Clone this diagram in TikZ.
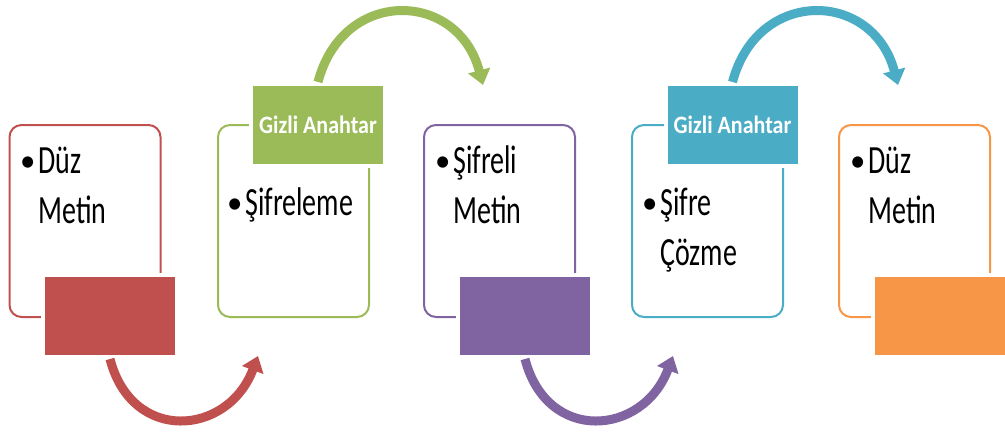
\documentclass[tikz,border=0pt]{standalone}
\usepackage{fontspec}
\setmainfont{Carlito}
\usepackage{tikz}
\usetikzlibrary{shapes,arrows,arrows.meta}
\definecolor{kirmizi}{HTML}{C0504D}
\definecolor{yesil}{HTML}{9BBB59}
\definecolor{mor}{HTML}{8064A2}
\definecolor{mavi}{HTML}{4BACC6}
\definecolor{turuncu}{HTML}{F79646}
\tikzstyle{kutu} = [draw,line width=2pt,rounded corners=12pt,minimum width=151pt,minimum height=192pt,inner sep=0pt]
\tikzstyle{blok} = [draw=white,line width=4pt,minimum width=134pt,minimum height=82pt,inner sep=0pt]
\tikzstyle{yazi} = [anchor=base west,align=left,inner sep=0pt,font=\fontsize{40}{50}\selectfont,xscale=0.7,transform shape]
\tikzstyle{etiket} = [text=white,font=\fontsize{25}{28}\bfseries]
\tikzstyle{ok} = [line width=9pt,-{Triangle[length=15pt,width=22pt]}]
\newcommand{\blt}{\makebox[26pt][l]{\raisebox{2pt}{\scalebox{1.1}[0.8]{\textbullet}}}}
\newcommand{\bos}{\hspace*{26pt}}

\begin{document}
\begin{tikzpicture}[x=1pt,y=-1pt]
  \useasboundingbox (0,0) rectangle (1005,436);
  % kutular
  \node[kutu,draw=kirmizi] (k1) at (85,221) {};
  \node[kutu,draw=yesil] (k2) at (293.5,221) {};
  \node[kutu,draw=mor] (k3) at (499.5,221) {};
  \node[kutu,draw=mavi] (k4) at (707.5,221) {};
  \node[kutu,draw=turuncu] (k5) at (914.5,221) {};
  % dolu bloklar
  \node[blok,fill=kirmizi] (r1) at (110,316) {};
  \node[blok,fill=mor] (r3) at (525,316) {};
  \node[blok,fill=turuncu] (r5) at (940,316) {};
  \node[blok,fill=yesil,etiket] (g) at (318,125) {\scalebox{0.88}[1]{Gizli Anahtar}};
  \node[blok,fill=mavi,etiket] (b) at (732.5,125) {\scalebox{0.88}[1]{Gizli Anahtar}};
  % yazilar (base = son satir)
  \node[yazi] (t1) at (20,223) {\blt Düz\\ \bos Metin};
  \node[yazi] (t2) at (227,215) {\blt Şifreleme};
  \node[yazi] (t3) at (435,223) {\blt Şifreli\\ \bos Metin};
  \node[yazi] (t4) at (642,265) {\blt Şifre\\ \bos Çözme};
  \node[yazi] (t5) at (850,223) {\blt Düz\\ \bos Metin};
  % oklar
  \coordinate (u1) at (258,356);
  \coordinate (u2) at (483,85);
  \coordinate (u3) at (673,356);
  \coordinate (u4) at (898,85);
  \draw [ok,kirmizi] (r1.south) .. controls +(22,85) and +(-30,80) .. (u1);
  \draw [ok,yesil] (g.north) .. controls +(25,-95) and +(-25,-95) .. (u2);
  \draw [ok,mor] (r3.south) .. controls +(22,85) and +(-30,80) .. (u3);
  \draw [ok,mavi] (b.north) .. controls +(25,-95) and +(-25,-95) .. (u4);
\end{tikzpicture}
\end{document}
